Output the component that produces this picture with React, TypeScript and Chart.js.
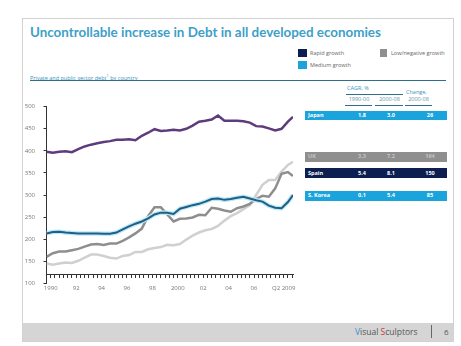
import React, { useEffect, useRef } from "react";
import { Chart, registerables } from "chart.js";

Chart.register(...registerables);

// ---- data ----
const years = [
  1990, 1990.5, 1991, 1991.5, 1992, 1992.5, 1993, 1993.5, 1994, 1994.5,
  1995, 1995.5, 1996, 1996.5, 1997, 1997.5, 1998, 1998.5, 1999, 1999.5,
  2000, 2000.5, 2001, 2001.5, 2002, 2002.5, 2003, 2003.5, 2004, 2004.5,
  2005, 2005.5, 2006, 2006.5, 2007, 2007.5, 2008, 2008.5, 2009, 2009.4,
];
const japan = [
  398, 396, 398, 399, 397, 404, 410, 414, 417, 420,
  422, 425, 425, 426, 424, 434, 441, 449, 445, 446,
  448, 446, 450, 457, 466, 468, 471, 480, 468, 468,
  468, 467, 464, 456, 455, 451, 446, 450, 466, 477,
];
const korea = [
  213, 216, 217, 215, 214, 213, 213, 213, 213, 212,
  212, 215, 222, 229, 235, 240, 247, 256, 260, 260,
  257, 269, 273, 277, 280, 285, 291, 292, 289, 291,
  294, 296, 292, 288, 285, 276, 271, 270, 284, 300,
];
const spain = [
  160, 168, 172, 172, 175, 178, 183, 188, 189, 187,
  190, 190, 196, 204, 213, 224, 252, 272, 272, 256,
  240, 246, 247, 249, 255, 254, 271, 269, 265, 262,
  270, 274, 280, 291, 298, 296, 315, 348, 352, 343,
];
const uk = [
  145, 142, 145, 147, 146, 151, 158, 165, 165, 162,
  158, 156, 162, 164, 171, 171, 177, 180, 182, 187,
  186, 189, 199, 208, 215, 220, 223, 230, 242, 252,
  259, 268, 277, 300, 323, 334, 334, 353, 368, 375,
];

const xTickLabels = ["1990", "92", "94", "96", "98", "2000", "02", "04", "06", "Q2 2009"];
const xTickIndex = [1, 7, 13, 19, 25, 31, 37, 43, 49, 56];

const tableRows = ["Japan", "UK", "Spain", "S. Korea"];
const cagr9000 = ["1.8", "3.3", "5.4", "0.1"];
const cagr0008 = ["3.0", "7.2", "8.1", "5.4"];
const change0008 = ["26", "164", "150", "85"];

const legendItems = ["Rapid growth", "Medium growth", "Low/negative growth"];

const NAVY = "#0c1f50";
const CYAN = "#1ba3db";
const GRAY = "#8f8f8f";
const TEAL = "#3a93bd";

function toPoints(vals: number[]) {
  return vals.map((v, i) => ({ x: years[i], y: v }));
}

function DebtChart() {
  const ref = useRef<HTMLCanvasElement | null>(null);
  useEffect(() => {
    if (!ref.current) return;
    Chart.defaults.font.family = "'Open Sans', sans-serif";
    const chart = new Chart(ref.current, {
      type: "line",
      data: {
        datasets: [
          { label: "Japan", data: toPoints(japan), borderColor: "#5e3b7d", borderWidth: 2.5 },
          { label: "S. Korea", data: toPoints(korea), borderColor: "#1f5f85", borderWidth: 2 },
          { label: "S. Korea halo", data: toPoints(korea), borderColor: "#bde9f7", borderWidth: 4.5 },
          { label: "Spain", data: toPoints(spain), borderColor: "#8e8e8e", borderWidth: 2.5 },
          { label: "UK", data: toPoints(uk), borderColor: "#d0d0d0", borderWidth: 2.5 },
        ].map((d) => ({ ...d, pointRadius: 0, tension: 0, fill: false })),
      },
      options: {
        animation: false,
        responsive: false,
        maintainAspectRatio: false,
        layout: { padding: { top: 16.7, right: 7, left: 0, bottom: 26.7 } },
        plugins: { legend: { display: false }, tooltip: { enabled: false } },
        scales: {
          x: {
            type: "linear",
            min: 1990,
            max: 2009.4,
            position: { y: 120 } as any,
            afterBuildTicks: (s: any) => {
              const t = [];
              for (let i = 0; i <= 58; i++) t.push({ value: 1990 + i / 3 });
              s.ticks = t;
            },
            ticks: {
              autoSkip: false,
              maxRotation: 0,
              padding: 7,
              color: "#777",
              font: { size: 6 },
              callback: (_v: any, idx: number) => {
                const k = xTickIndex.indexOf(idx);
                return k >= 0 ? xTickLabels[k] : "";
              },
            },
            grid: { drawOnChartArea: false, drawTicks: true, tickLength: 3, color: "#333" },
            border: { display: true, color: "#333", width: 1 },
          },
          y: {
            min: 100,
            max: 500,
            afterFit: (s: any) => {
              s.width = 46.5;
            },
            ticks: { stepSize: 50, padding: 8.5, color: "#777", font: { size: 6 } },
            grid: { drawOnChartArea: false, drawTicks: true, tickLength: 3, color: "#333" },
            border: { display: true, color: "#333", width: 1 },
          },
        },
      },
    });
    return () => chart.destroy();
  }, []);
  return (
    <canvas
      ref={ref}
      width={300}
      height={220}
      style={{ position: "absolute", left: 0, top: 90, width: 300, height: 220 }}
    />
  );
}

const abs = (s: React.CSSProperties): React.CSSProperties => ({ position: "absolute", ...s });

export default function App() {
  const rowTops = [111, 152, 168, 191];
  const rowH = [8.5, 9.5, 10, 9.5];
  const rowBg = [CYAN, GRAY, NAVY, CYAN];
  const rowFg = ["#fff", "#c4c4c4", "#fff", "#fff"];
  const small: React.CSSProperties = { fontSize: 5.5, lineHeight: "7px", whiteSpace: "nowrap" };
  return (
    <div
      style={{
        position: "fixed",
        left: 0,
        top: 0,
        width: 461,
        height: 346,
        background: "#fff",
        overflow: "hidden",
        fontFamily: "'Open Sans', sans-serif",
      }}
    >
      {/* slide frame */}
      <div style={abs({ left: 22, top: 18, width: 430, height: 322, border: "1px solid #d2d2d2" })} />
      <div style={abs({ left: 23, top: 323, width: 430, height: 18, background: "#d5d5d5" })} />
      <div style={abs({ left: 355, top: 327, fontSize: 8.5, lineHeight: "10px", color: "#555", whiteSpace: "nowrap" })}>
        <span style={{ color: "#3d8fd2" }}>V</span>isual <span style={{ color: "#d03a3a" }}>S</span>culptors
      </div>
      <div style={abs({ left: 431, top: 325, width: 1, height: 13, background: "#666" })} />
      <div style={abs({ left: 444, top: 327, fontSize: 8, lineHeight: "10px", color: "#555" })}>6</div>

      {/* title */}
      <div
        style={abs({
          left: 30,
          top: 22.5,
          fontSize: 13.4,
          lineHeight: "18px",
          fontWeight: 700,
          color: "#3e9fc8",
          whiteSpace: "nowrap",
          fontFamily: "Lato, sans-serif",
        })}
      >
        Uncontrollable increase in Debt in all developed economies
      </div>

      {/* legend */}
      <div style={abs({ left: 298, top: 49, width: 9, height: 8, background: NAVY })} />
      <div style={abs({ ...small, left: 310, top: 49.5, color: "#666" })}>{legendItems[0]}</div>
      <div style={abs({ left: 298, top: 61, width: 9, height: 8, background: CYAN })} />
      <div style={abs({ ...small, left: 310, top: 61.5, color: "#666" })}>{legendItems[1]}</div>
      <div style={abs({ left: 380, top: 49, width: 7, height: 8, background: GRAY })} />
      <div style={abs({ ...small, left: 391, top: 49.5, color: "#666" })}>{legendItems[2]}</div>

      {/* subtitle */}
      <div style={abs({ ...small, left: 30, top: 71.5, color: TEAL })}>
        Private and public sector debt<sup style={{ fontSize: 4 }}>1</sup> by country
      </div>
      <div style={abs({ left: 30, top: 79.5, width: 416, height: 1.2, background: "#2d6f8c" })} />

      {/* table header */}
      <div style={abs({ ...small, left: 347, top: 84.5, color: TEAL })}>CAGR, %</div>
      <div style={abs({ left: 346, top: 93.5, width: 57, height: 1, background: "#2d6f8c" })} />
      <div style={abs({ ...small, left: 406, top: 88.5, color: TEAL })}>Change,</div>
      <div style={abs({ ...small, left: 346, top: 95.5, width: 26, textAlign: "center", color: "#6a8ea3" })}>1990-00</div>
      <div style={abs({ ...small, left: 376, top: 95.5, width: 27, textAlign: "center", color: "#6a8ea3" })}>2000-08</div>
      <div style={abs({ ...small, left: 405, top: 95.5, width: 27, textAlign: "center", color: "#6a8ea3" })}>2000-08</div>
      <div style={abs({ left: 345, top: 104.5, width: 27, height: 1, background: "#2d6f8c" })} />
      <div style={abs({ left: 375, top: 104.5, width: 28, height: 1, background: "#2d6f8c" })} />
      <div style={abs({ left: 405, top: 104.5, width: 27, height: 1, background: "#2d6f8c" })} />

      {/* table rows */}
      {tableRows.map((name, i) => (
        <div
          key={name}
          style={abs({
            left: 305,
            top: rowTops[i],
            width: 142,
            height: rowH[i],
            background: rowBg[i],
            color: rowFg[i],
            fontSize: 5.5,
            fontWeight: 700,
          })}
        >
          <div style={abs({ left: 3, top: (rowH[i] - 7) / 2, lineHeight: "7px", whiteSpace: "nowrap" })}>{name}</div>
          <div style={abs({ left: 47, width: 20, textAlign: "center", top: (rowH[i] - 7) / 2, lineHeight: "7px" })}>{cagr9000[i]}</div>
          <div style={abs({ left: 76, width: 20, textAlign: "center", top: (rowH[i] - 7) / 2, lineHeight: "7px" })}>{cagr0008[i]}</div>
          <div style={abs({ left: 115, width: 20, textAlign: "center", top: (rowH[i] - 7) / 2, lineHeight: "7px" })}>{change0008[i]}</div>
        </div>
      ))}

      <DebtChart />
    </div>
  );
}
